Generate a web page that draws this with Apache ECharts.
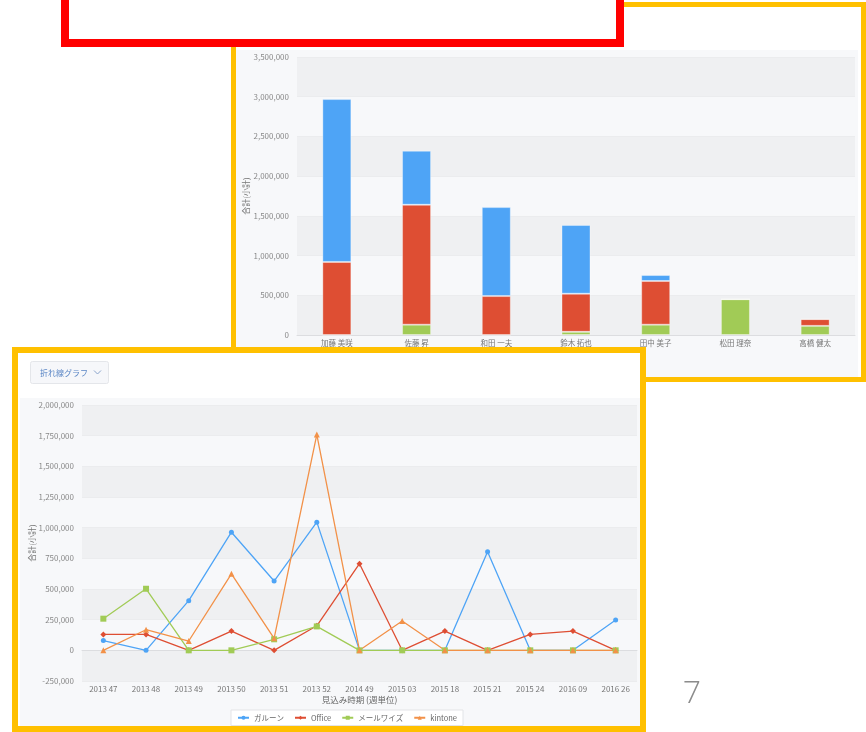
<!DOCTYPE html>
<html lang="ja">
<head>
  <meta http-equiv="Content-Type" content="text/html; charset=UTF-8">
  <title>グラフ</title>
  <style>
    html, body { margin: 0; padding: 0; background: #fff; }
    #myChart { width: 866px; height: 732px; }
  </style>
</head>
<body>
  <div id="myChart"></div>
  <script src="https://cdn.jsdelivr.net/npm/echarts@6/dist/echarts.min.js"></script>
  <script>
    // 担当者別 積み上げ棒
    const people = ['加藤 美咲', '佐藤 昇', '和田 一夫', '鈴木 拓也', '田中 美子', '松田 理奈', '高橋 健太'];
    const barMailwise = [0, 130000, 0, 40000, 130000, 450000, 115000];
    const barOffice = [920000, 1510000, 490000, 480000, 550000, 0, 85000];
    const barGaroon = [2050000, 680000, 1120000, 865000, 75000, 0, 0];

    // 見込み時期別 折れ線
    const weeks = ['2013 47', '2013 48', '2013 49', '2013 50', '2013 51', '2013 52', '2014 49',
      '2015 03', '2015 18', '2015 21', '2015 24', '2016 09', '2016 26'];
    const lineGaroon = [80000, 0, 405000, 963000, 565000, 1045000, 0, 0, 0, 804000, 0, 0, 247000];
    const lineOffice = [130000, 130000, 0, 157000, 0, 200000, 706000, 0, 157000, 0, 130000, 157000, 0];
    const lineMailwise = [258000, 502000, 0, 0, 90000, 195000, 0, 0, 0, 0, 0, 0, 0];
    const lineKintone = [0, 168000, 76000, 624000, 98000, 1759000, 0, 239000, 0, 0, 0, 0, 0];

    const seriesNames = ['ガルーン', 'Office', 'メールワイズ', 'kintone'];

    const C = {
      blue: '#4ea4f6',
      red: '#de4e33',
      green: '#a1cb56',
      orange: '#f29148',
      yellow: '#ffc000',
      bandDark: '#eff0f2',
      bandLight: '#f7f8fa'
    };
    const font = '"Noto Sans CJK JP", "Noto Sans", sans-serif';
    const fmt = v => v.toLocaleString('en-US');

    const myChart = echarts.init(document.getElementById('myChart'));

    const yAxisBase = {
      type: 'value',
      axisLine: { show: false },
      axisTick: { show: false },
      axisLabel: { color: '#888', fontSize: 8, fontFamily: font, formatter: fmt, margin: 8 },
      splitLine: { show: true, lineStyle: { color: '#ebecee', width: 1 } },
      splitArea: { show: true, areaStyle: { color: [C.bandDark, C.bandLight] } },
      nameLocation: 'middle',
      nameMoveOverlap: false,
      nameTextStyle: { color: '#777', fontSize: 8, fontFamily: font }
    };
    const xAxisBase = {
      type: 'category',
      axisLine: { lineStyle: { color: '#dcdde0' } },
      axisTick: { lineStyle: { color: '#cfd0d3' }, length: 4 },
      axisLabel: { color: '#777', fontSize: 8, fontFamily: font, margin: 8 }
    };

    const lineCommon = {
      type: 'line',
      xAxisIndex: 1,
      yAxisIndex: 1,
      symbolSize: 5,
      z: 3
    };

    const option = {
      animation: false,
      textStyle: { fontFamily: font },
      graphic: [
        // 上の画面
        { type: 'rect', z: -20, shape: { x: 236, y: 7, width: 625, height: 370 }, style: { fill: '#ffffff' } },
        { type: 'rect', z: -19, shape: { x: 236, y: 50, width: 622, height: 327 }, style: { fill: C.bandLight } },
        { type: 'rect', z: -18, shape: { x: 233.5, y: 4.5, width: 630, height: 375 },
          style: { fill: null, stroke: C.yellow, lineWidth: 5 } },
        // 赤枠
        { type: 'rect', z: -17, shape: { x: 65, y: -20, width: 555, height: 63 },
          style: { fill: '#ffffff', stroke: '#ff0000', lineWidth: 8 } },
        // 下の画面
        { type: 'rect', z: -16, shape: { x: 12, y: 347, width: 634, height: 385 }, style: { fill: '#ffffff' } },
        { type: 'rect', z: -15, shape: { x: 20, y: 398, width: 620, height: 329 }, style: { fill: C.bandLight } },
        { type: 'rect', z: 100, shape: { x: 15, y: 350, width: 628, height: 379 },
          style: { fill: null, stroke: C.yellow, lineWidth: 6 } },
        // 折れ線グラフ ドロップダウン
        { type: 'rect', z: 10, shape: { x: 30.5, y: 361.5, width: 78, height: 22, r: 2 },
          style: { fill: '#f6f7fa', stroke: '#e4e6ea', lineWidth: 1 } },
        { type: 'text', z: 11, x: 40, y: 372.5,
          style: { text: '折れ線グラフ', fill: '#5a86c5', fontSize: 8, fontFamily: font, verticalAlign: 'middle' } },
        { type: 'polyline', z: 11, shape: { points: [[94, 370.5], [97.5, 374], [101, 370.5]] },
          style: { fill: null, stroke: '#8aa4cc', lineWidth: 1 } },
        // ページ番号
        { type: 'text', z: 10, x: 692, y: 694,
          style: { text: '7', fill: '#8c8c8c', fontSize: 32, fontFamily: '"Open Sans", sans-serif', fontWeight: 300,
            align: 'center', verticalAlign: 'middle' } }
      ],
      legend: {
        data: seriesNames,
        left: 231,
        top: 710,
        padding: [4, 6],
        itemGap: 10,
        itemWidth: 11,
        itemHeight: 5,
        backgroundColor: '#ffffff',
        borderColor: '#e3e4e7',
        borderWidth: 1,
        textStyle: { color: '#666', fontSize: 7.5, fontFamily: font }
      },
      grid: [
        { left: 297, right: 11, top: 57, bottom: 397, containLabel: false },
        { left: 82, right: 229, top: 405, bottom: 51, containLabel: false }
      ],
      xAxis: [
        Object.assign({}, xAxisBase, {
          gridIndex: 0, data: people,
          axisLabel: { color: '#777', fontSize: 7.5, fontFamily: font, margin: 4 }
        }),
        Object.assign({}, xAxisBase, {
          gridIndex: 1, data: weeks,
          axisLabel: { color: '#777', fontSize: 8, fontFamily: font, margin: 4 },
          name: '見込み時期 (週単位)', nameLocation: 'middle', nameGap: 15, nameMoveOverlap: false,
          nameTextStyle: { color: '#666', fontSize: 8.5, fontFamily: font }
        })
      ],
      yAxis: [
        Object.assign({}, yAxisBase, { gridIndex: 0, min: 0, max: 3500000, interval: 500000, name: '合計(小計)', nameGap: 47 }),
        Object.assign({}, yAxisBase, { gridIndex: 1, min: -250000, max: 2000000, interval: 250000, name: '合計(小計)', nameGap: 46 })
      ],
      series: [
        Object.assign({}, lineCommon, { name: 'ガルーン', data: lineGaroon, symbol: 'circle',
          itemStyle: { color: C.blue }, lineStyle: { width: 1.3, color: C.blue } }),
        Object.assign({}, lineCommon, { name: 'Office', data: lineOffice, symbol: 'diamond', symbolSize: 6,
          itemStyle: { color: C.red }, lineStyle: { width: 1.3, color: C.red } }),
        Object.assign({}, lineCommon, { name: 'メールワイズ', data: lineMailwise, symbol: 'rect', symbolSize: 6,
          itemStyle: { color: C.green }, lineStyle: { width: 1.3, color: C.green } }),
        Object.assign({}, lineCommon, { name: 'kintone', data: lineKintone, symbol: 'triangle', symbolSize: 6,
          itemStyle: { color: C.orange }, lineStyle: { width: 1.3, color: C.orange } }),
        {
          type: 'bar', name: 'メールワイズ', stack: 'total', data: barMailwise, barWidth: 29,
          itemStyle: { color: C.green, borderColor: 'rgba(255,255,255,0.35)', borderWidth: 1 }
        },
        {
          type: 'bar', name: 'Office', stack: 'total', data: barOffice, barWidth: 29,
          itemStyle: { color: C.red, borderColor: 'rgba(255,255,255,0.35)', borderWidth: 1 }
        },
        {
          type: 'bar', name: 'ガルーン', stack: 'total', data: barGaroon, barWidth: 29,
          itemStyle: { color: C.blue, borderColor: 'rgba(255,255,255,0.35)', borderWidth: 1 }
        }
      ]
    };
    myChart.setOption(option);
  </script>
</body>
</html>
